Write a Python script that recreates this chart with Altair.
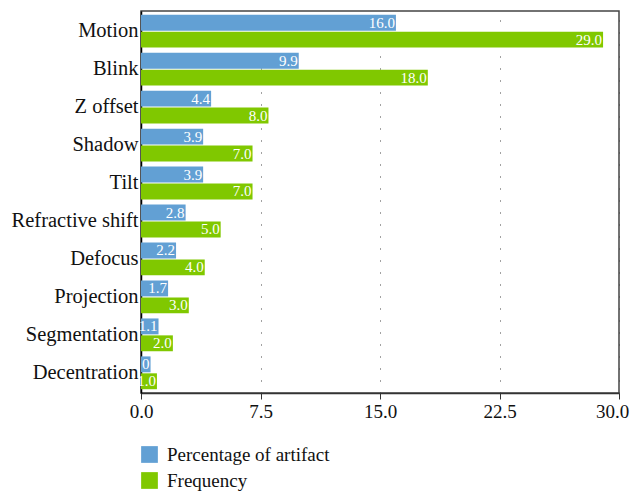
import altair as alt
import pandas as pd

categories = ["Motion", "Blink", "Z offset", "Shadow", "Tilt", "Refractive shift",
              "Defocus", "Projection", "Segmentation", "Decentration"]
series_names = ["Percentage of artifact", "Frequency"]
pct = [16.0, 9.9, 4.4, 3.9, 3.9, 2.8, 2.2, 1.7, 1.1, 0.6]
pct_labels = ["16.0", "9.9", "4.4", "3.9", "3.9", "2.8", "2.2", "1.7", "1.1", "0"]
freq = [29.0, 18.0, 8.0, 7.0, 7.0, 5.0, 4.0, 3.0, 2.0, 1.0]
freq_labels = ["29.0", "18.0", "8.0", "7.0", "7.0", "5.0", "4.0", "3.0", "2.0", "1.0"]
colors = ["#62a0d4", "#80c800"]
ticks = [0, 7.5, 15, 22.5, 30]

rows = []
for c, v, l in zip(categories, pct, pct_labels):
    rows.append({"cat": c, "series": series_names[0], "value": v, "label": l})
for c, v, l in zip(categories, freq, freq_labels):
    rows.append({"cat": c, "series": series_names[1], "value": v, "label": l})
df = pd.DataFrame(rows)

FONT = "Liberation Serif"

base = alt.Chart(df).encode(
    y=alt.Y("cat:N", sort=categories,
            scale=alt.Scale(paddingInner=0.136, paddingOuter=0.1),
            axis=alt.Axis(title=None, labelFont=FONT, labelFontSize=20.5, labelColor="#111",
                          ticks=False, domainColor="#000", domainWidth=1.5, labelPadding=3)),
    yOffset=alt.YOffset("series:N", sort=series_names, scale=alt.Scale(paddingInner=0.06)),
)

bars = base.mark_bar().encode(
    x=alt.X("value:Q", scale=alt.Scale(domain=[0, 30], nice=False),
            axis=alt.Axis(title=None, values=ticks, format=".1f", labelFont=FONT,
                          labelFontSize=19, labelColor="#111", tickColor="#333",
                          tickSize=6, domainColor="#333", domainWidth=1.5, labelPadding=3,
                          labelFlush=False,
                          labelOffset={"condition": {"test": "datum.value === 30", "value": -7},
                                       "value": 0},
                          grid=True, gridDash=[1, 11], gridColor="#444", gridWidth=1)),
    color=alt.Color("series:N", sort=series_names,
                    scale=alt.Scale(domain=series_names, range=colors),
                    legend=alt.Legend(title=None, orient="none", legendX=-1, legendY=434,
                                      symbolType="square", symbolSize=280, symbolStrokeWidth=0,
                                      labelFont=FONT, labelFontSize=19, labelColor="#111",
                                      labelLimit=400, rowPadding=6, labelOffset=8)),
)

text = base.mark_text(align="right", baseline="middle", dx=-1, color="white",
                      font=FONT, fontSize=15).encode(
    x=alt.X("value:Q"),
    text="label:N",
)

chart = alt.layer(bars, text).properties(
    width=478, height=382,
    autosize=alt.AutoSizeParams(type="none"),
    padding={"left": 133, "top": 3, "right": 11, "bottom": 98},
).configure_view(stroke="#444", strokeWidth=1.5)

chart.save("out.html", embed_options={"renderer": "svg", "actions": False})
